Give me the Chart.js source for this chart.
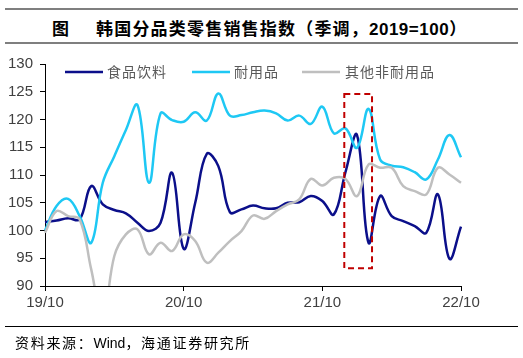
<!DOCTYPE html>
<html><head><meta charset="utf-8">
<script src="https://cdn.jsdelivr.net/npm/chart.js@4/dist/chart.umd.min.js"></script>
<style>
html,body{margin:0;padding:0;background:#fff;width:523px;height:358px;overflow:hidden;position:relative;font-family:"Liberation Sans",Arial,sans-serif}
#wrap{position:absolute;left:0;top:0;width:523px;height:358px}
.line{position:absolute;left:5px;width:513px}
#title{position:absolute;top:15px;left:0;width:523px;height:24px;font-weight:bold;font-size:17px;color:#000;white-space:nowrap}
#title .a{position:absolute;left:52px;font-family:"Noto Sans CJK SC",sans-serif}
#title .b{position:absolute;left:96px;font-family:"Noto Sans CJK SC",sans-serif;letter-spacing:1.2px}
#title .num{font-family:"Liberation Sans",Arial,sans-serif;letter-spacing:0.5px}
#src{position:absolute;left:15px;top:332px;font-size:14px;color:#000;white-space:nowrap;font-family:"Noto Sans CJK SC",sans-serif;letter-spacing:1.7px}
#src .w{font-family:"Liberation Sans",Arial,sans-serif;letter-spacing:0}
</style></head>
<body>
<div class="line" style="top:8px;height:2px;background:#7f7f7f"></div>
<div id="title"><span class="a">图</span><span class="b">韩国分品类零售销售指数（季调，<span class="num">2019=100</span>）</span></div>
<div class="line" style="top:42px;height:2px;background:#7f7f7f"></div>
<div id="wrap"><canvas id="c" width="523" height="358"></canvas></div>
<div class="line" style="top:326px;height:1px;background:#000"></div>
<div id="src">资料来源：<span class="w">Wind</span>，海通证券研究所</div>
<script>
const months = ["19/10","19/11","19/12","20/01","20/02","20/03","20/04","20/05","20/06","20/07","20/08","20/09",
"20/10","20/11","20/12","21/01","21/02","21/03","21/04","21/05","21/06","21/07","21/08","21/09",
"21/10","21/11","21/12","22/01","22/02","22/03","22/04","22/05","22/06","22/07","22/08","22/09","22/10"];
const tickLabels = ["19/10","20/10","21/10","22/10"];
const foodBeverage = [101.5,101.8,102.2,102.0,108.0,104.7,103.7,103.1,101.4,99.9,101.4,110.4,96.7,105.0,113.8,111.6,103.3,103.8,104.5,104.0,104.0,105.0,105.1,106.2,105.3,102.9,110.5,117.2,97.8,106.2,102.6,101.7,100.8,99.6,106.5,94.9,100.7];
const durables = [100.0,104.4,105.7,102.6,97.8,108.6,113.4,118.1,122.6,108.6,121.1,119.9,119.6,121.3,119.8,124.7,120.7,120.8,121.3,121.6,121.1,119.8,120.7,119.2,122.3,117.5,118.4,114.9,121.9,112.8,111.7,111.4,110.5,109.2,112.8,117.2,113.2];
const otherNondurables = [99.6,103.5,102.6,102.0,93.0,84.0,95.4,99.3,100.2,95.7,97.8,96.3,99.3,98.1,94.2,96.0,98.1,99.9,102.7,102.1,103.5,104.7,105.6,109.3,108.1,109.5,109.3,106.2,111.9,111.3,111.3,108.0,107.1,106.5,111.3,110.1,108.6];
const seriesNames = ["食品饮料","耐用品","其他非耐用品"];
const yTicks = [90,95,100,105,110,115,120,125,130];
// highlight box (x index range, value range)
const boxX = [25.9, 28.3];
const boxY = [93.2, 124.6];

const colors = ["#0b0f8a","#1ec8f4","#bfbfbf"];

const boxPlugin = {
  id:'box',
  afterDatasetsDraw(chart){
    const x=chart.scales.x, y=chart.scales.y, ctx=chart.ctx;
    const x0=x.getPixelForValue(boxX[0]), x1=x.getPixelForValue(boxX[1]);
    const y0=y.getPixelForValue(boxY[1]), y1=y.getPixelForValue(boxY[0]);
    ctx.save();
    ctx.strokeStyle="#c00000"; ctx.lineWidth=2; ctx.setLineDash([6,4]);
    ctx.strokeRect(x0,y0,x1-x0,y1-y0);
    ctx.restore();
  }
};
const legendPlugin = {
  id:'leg',
  afterDraw(chart){
    const ctx=chart.ctx;
    const items=[[65,103,107],[192,230,234],[302,340,345]];
    const yy=72;
    ctx.save();
    ctx.font='14px "Noto Sans CJK SC", sans-serif';
    ctx.textBaseline='middle';
    ctx.fillStyle="#595959";
    items.forEach((it,i)=>{
      ctx.strokeStyle=colors[i]; ctx.lineWidth=2.5;
      ctx.beginPath(); ctx.moveTo(it[0],yy); ctx.lineTo(it[1],yy); ctx.stroke();
      ctx.letterSpacing='1px';
      ctx.fillText(seriesNames[i], it[2], yy);
    });
    ctx.restore();
  }
};

const mk=(d,i)=>({label:seriesNames[i],data:d,borderColor:colors[i],backgroundColor:colors[i],borderWidth:2.5,pointRadius:0,tension:0.4,fill:false});

new Chart(document.getElementById('c'),{
  type:'line',
  data:{labels:months,datasets:[mk(foodBeverage,0),mk(durables,1),mk(otherNondurables,2)].reverse()},
  options:{
    responsive:false,animation:false,
    layout:{padding:{left:0,right:62,top:64,bottom:47}},
    plugins:{legend:{display:false},tooltip:{enabled:false}},
    scales:{
      x:{type:'category',offset:false,
        afterFit(s){s.height=25;},
        border:{color:'#000',width:1},
        grid:{drawOnChartArea:false,tickLength:5,color:(c)=>(c.index%12===0?'#000':'rgba(0,0,0,0)')},
        ticks:{autoSkip:false,maxRotation:0,padding:3,color:'#404040',font:{size:15,family:'"Liberation Sans", Arial'},
          callback:(v,i)=>(i%12===0?tickLabels[i/12]:'')}
      },
      y:{min:90,max:130,
        afterFit(s){s.width=45;},
        afterBuildTicks(s){s.ticks=yTicks.map(v=>({value:v}));},
        border:{color:'#000',width:1},
        grid:{drawOnChartArea:false,tickLength:5,color:'#000'},
        ticks:{padding:7,color:'#404040',font:{size:15,family:'"Liberation Sans", Arial'}}
      }
    }
  },
  plugins:[boxPlugin,legendPlugin]
});
</script>
</body></html>
